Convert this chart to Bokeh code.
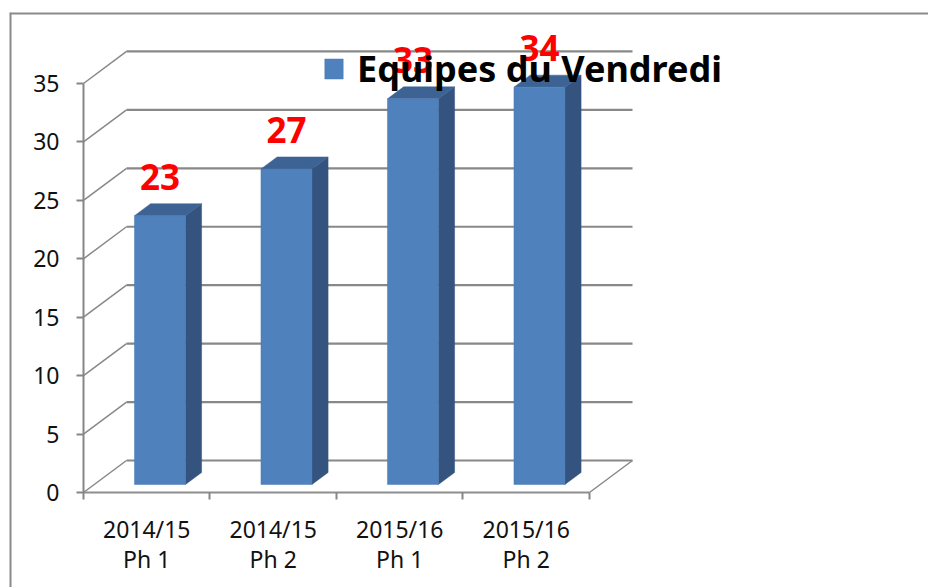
from bokeh.plotting import figure
from bokeh.models import (Range1d, LinearAxis, FixedTicker, Legend, LegendItem,
                          ColumnDataSource)
from bokeh.core.properties import value
from bokeh.embed import file_html
from bokeh.resources import INLINE

# ---------------- data ----------------
categories_line1 = ["2014/15", "2014/15", "2015/16", "2015/16"]
categories_line2 = ["Ph 1", "Ph 2", "Ph 1", "Ph 2"]
series_name = "Equipes du Vendredi"
equipes = [23, 27, 33, 34]
y_ticks = [0, 5, 10, 15, 20, 25, 30, 35]

# ---------------- geometry (3-D look) ----------------
DX, DY = 0.34, 2.74          # full depth of the floor, in data units
F0 = 0.25                    # depth fraction of bar front face
FB = 0.375                   # depth fraction of bar thickness
BAR_OFF, BAR_W = 0.318, 0.403
LABEL_GAP = 4.0

FONT = "Noto Sans"
GRID = "#888888"
FRONT = "#4f81bd"
SIDE = "#34547f"
TOP = "#3c6394"

n = len(equipes)
ymax = y_ticks[-1]

XS, XE = -0.585, 6.680
YS, YE = -8.129, 41.075

p = figure(width=928, height=587, output_backend="svg", toolbar_location=None,
           x_axis_location=None, y_axis_location=None,
           x_range=Range1d(XS, XE), y_range=Range1d(YS, YE),
           min_border_left=9, min_border_top=12, min_border_right=0,
           min_border_bottom=0)
p.background_fill_color = "white"
p.border_fill_color = "white"
p.outline_line_color = None
for g in p.grid:
    g.visible = False

# chart-area border (left and top edges; right/bottom fall outside the view)
p.segment(x0=[XS, XS], y0=[YS, YE], x1=[XS, XE], y1=[YE, YE],
          line_color="#8a8a8a", line_width=4)

# back wall gridlines and side-wall diagonals
p.segment(x0=[DX] * len(y_ticks), y0=[t + DY for t in y_ticks],
          x1=[n + DX] * len(y_ticks), y1=[t + DY for t in y_ticks],
          line_color=GRID, line_width=2.2)
p.segment(x0=[0] * len(y_ticks), y0=y_ticks,
          x1=[DX] * len(y_ticks), y1=[t + DY for t in y_ticks],
          line_color=GRID, line_width=1.5)
# floor right edge
p.segment(x0=[n], y0=[0], x1=[n + DX], y1=[DY], line_color=GRID, line_width=1.5)

# bars
xl = [i + BAR_OFF + F0 * DX for i in range(n)]
xr = [x + BAR_W for x in xl]
yb = [F0 * DY] * n
yt = [v + F0 * DY for v in equipes]
ddx, ddy = FB * DX, FB * DY

side_xs = [[r, r + ddx, r + ddx, r] for r in xr]
side_ys = [[b, b + ddy, t + ddy, t] for b, t in zip(yb, yt)]
top_xs = [[l, r, r + ddx, l + ddx] for l, r in zip(xl, xr)]
top_ys = [[t, t, t + ddy, t + ddy] for t in yt]

p.patches(side_xs, side_ys, fill_color=SIDE, line_color=SIDE, line_width=0.5)
p.patches(top_xs, top_ys, fill_color=TOP, line_color=TOP, line_width=0.5)
front = p.quad(left=xl, right=xr, bottom=yb, top=yt,
               fill_color=FRONT, line_color="#4a7ab4", line_width=0.5)

# data labels
lab = ColumnDataSource(dict(x=[(l + r) / 2 for l, r in zip(xl, xr)],
                            y=[v + LABEL_GAP for v in equipes],
                            t=[str(v) for v in equipes]))
p.text(x="x", y="y", text="t", source=lab, text_font=value(FONT),
       text_font_style="bold", text_font_size="35px", text_color="#ff0000",
       text_align="center", text_baseline="middle")

# y axis (front)
yax = LinearAxis(fixed_location=0, bounds=(0, ymax), ticker=FixedTicker(ticks=y_ticks))
yax.axis_line_color = "#868686"
yax.axis_line_width = 2
yax.major_tick_line_color = "#868686"
yax.major_tick_line_width = 2
yax.major_tick_out = 7
yax.major_tick_in = 0
yax.minor_tick_line_color = None
yax.major_label_standoff = 17
yax.major_label_text_font = FONT
yax.major_label_text_font_size = "23px"
yax.major_label_text_color = "#111111"
p.add_layout(yax, "left")

# x axis: boundary ticks
xax = LinearAxis(fixed_location=0, bounds=(0, n), ticker=FixedTicker(ticks=list(range(n + 1))))
xax.axis_line_color = "#8e8e8e"
xax.axis_line_width = 2
xax.major_tick_line_color = "#868686"
xax.major_tick_line_width = 2
xax.major_tick_out = 7
xax.major_tick_in = 0
xax.minor_tick_line_color = None
xax.major_label_text_alpha = 0
p.add_layout(xax, "below")

centers = [i + 0.5 for i in range(n)]
for labels, standoff in ((categories_line1, 20), (categories_line2, 50)):
    ax = LinearAxis(fixed_location=0, ticker=FixedTicker(ticks=centers),
                    major_label_overrides={c: s for c, s in zip(centers, labels)})
    ax.axis_line_color = None
    ax.major_tick_line_color = None
    ax.minor_tick_line_color = None
    ax.major_tick_out = 0
    ax.major_tick_in = 0
    ax.major_label_standoff = standoff
    ax.major_label_text_font = FONT
    ax.major_label_text_font_size = "23px"
    ax.major_label_text_color = "#111111"
    p.add_layout(ax, "below")

legend = Legend(items=[LegendItem(label=series_name, renderers=[front])],
                location=(313, 494), padding=0, margin=0, spacing=0,
                glyph_width=23, glyph_height=25, label_standoff=12,
                border_line_color=None, background_fill_alpha=0)
legend.label_text_font = FONT
legend.label_text_font_style = "bold"
legend.label_text_font_size = "36px"
legend.label_text_color = "black"
p.add_layout(legend, "center")

open("out.html", "w").write(file_html(p, INLINE))
